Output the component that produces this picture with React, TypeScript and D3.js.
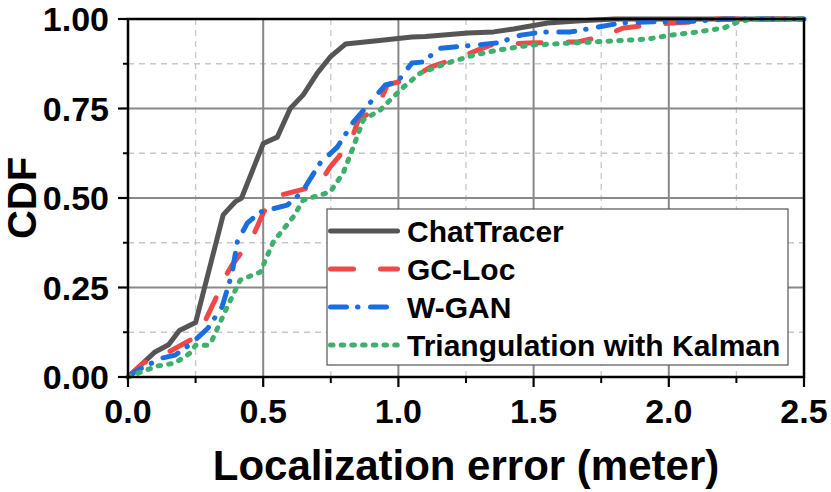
import React from "react";
import * as d3 from "d3";

type Pt = [number, number];

const chatTracer: Pt[] = [
  [0, 0], [0.1, 0.07], [0.15, 0.09], [0.19, 0.13], [0.25, 0.152], [0.352, 0.453],
  [0.396, 0.489], [0.42, 0.5], [0.5, 0.652], [0.552, 0.67], [0.6, 0.75], [0.648, 0.788],
  [0.7, 0.849], [0.748, 0.894], [0.804, 0.93], [0.93, 0.94], [1.05, 0.95], [1.1, 0.951],
  [1.256, 0.961], [1.352, 0.964], [1.426, 0.972], [1.552, 0.989], [1.674, 0.995], [1.8, 1.0], [2.5, 1.0],
];

const gcLoc: Pt[] = [
  [0, 0], [0.056, 0.039], [0.144, 0.067], [0.23, 0.103], [0.278, 0.145], [0.322, 0.215],
  [0.359, 0.279], [0.385, 0.313], [0.459, 0.388], [0.5, 0.458], [0.537, 0.503], [0.611, 0.517],
  [0.704, 0.536], [0.748, 0.587], [0.822, 0.654], [0.852, 0.718], [0.922, 0.751], [0.959, 0.816],
  [1.052, 0.835], [1.12, 0.866], [1.219, 0.891], [1.293, 0.913], [1.341, 0.927], [1.478, 0.933],
  [1.663, 0.936], [1.748, 0.95], [1.833, 0.975], [1.933, 0.983], [2.007, 0.989], [2.12, 0.992],
  [2.17, 1.0], [2.5, 1.0],
];

const wGan: Pt[] = [
  [0, 0], [0.037, 0.02], [0.126, 0.053], [0.174, 0.061], [0.237, 0.095], [0.296, 0.137],
  [0.348, 0.196], [0.385, 0.29], [0.404, 0.377], [0.441, 0.43], [0.489, 0.461], [0.589, 0.48],
  [0.644, 0.517], [0.711, 0.598], [0.774, 0.642], [0.833, 0.712], [0.878, 0.751], [0.952, 0.816],
  [0.996, 0.824], [1.05, 0.877], [1.093, 0.88], [1.15, 0.918], [1.256, 0.925], [1.367, 0.933],
  [1.452, 0.955], [1.537, 0.964], [1.637, 0.964], [1.722, 0.975], [1.822, 0.989], [1.944, 0.992],
  [2.04, 0.992], [2.17, 0.997], [2.2, 1.0], [2.5, 1.0],
];

const triKalman: Pt[] = [
  [0, 0], [0.037, 0.011], [0.111, 0.031], [0.174, 0.039], [0.23, 0.067], [0.25, 0.089],
  [0.296, 0.089], [0.311, 0.103], [0.367, 0.196], [0.415, 0.271], [0.489, 0.293], [0.537, 0.377],
  [0.611, 0.447], [0.648, 0.494], [0.748, 0.517], [0.796, 0.57], [0.833, 0.642], [0.87, 0.718],
  [0.933, 0.746], [0.97, 0.774], [1.019, 0.81], [1.081, 0.849], [1.181, 0.877], [1.278, 0.899],
  [1.367, 0.913], [1.489, 0.927], [1.722, 0.936], [1.922, 0.944], [2.007, 0.955], [2.107, 0.964],
  [2.204, 0.975], [2.256, 0.992], [2.31, 1.0], [2.5, 1.0],
];

const seriesNames = ["ChatTracer", "GC-Loc", "W-GAN", "Triangulation with Kalman"];
const xTickLabels = ["0.0", "0.5", "1.0", "1.5", "2.0", "2.5"];
const yTickLabels = ["0.00", "0.25", "0.50", "0.75", "1.00"];
const xTitle = "Localization error (meter)";
const yTitle = "CDF";

const W = 831;
const H = 492;
const M = { left: 128, top: 19, right: 27, bottom: 115 };
const FONT = "'Liberation Sans', Arial, Helvetica, sans-serif";

const styles = [
  { color: "#555555", dash: "" },
  { color: "#F04848", dash: "23,27" },
  { color: "#1A6FE0", dash: "16,11,0.5,12.5" },
  { color: "#3CB06C", dash: "2.5,8.2" },
];

export default function App() {
  const x = d3.scaleLinear().domain([0, 2.5]).range([M.left, W - M.right]);
  const y = d3.scaleLinear().domain([0, 1]).range([H - M.bottom, M.top]);
  const line = d3
    .line<Pt>()
    .x((d) => x(d[0]))
    .y((d) => y(d[1]));
  const data = [chatTracer, gcLoc, wGan, triKalman];

  const xMajor = xTickLabels.map((t) => +t);
  const yMajor = yTickLabels.map((t) => +t);
  const xMinor = d3.range(0.25, 2.5, 0.5);
  const yMinor = d3.range(0.125, 1, 0.25);

  const x0 = M.left, x1 = W - M.right, y0 = H - M.bottom, y1 = M.top;

  const lg = { x: 327, y: 209, w: 461, h: 156 };
  const rowY = [231, 269, 307, 345];

  return (
    <svg width={W} height={H} style={{ position: "absolute", left: 0, top: 0, background: "#fff" }}>
      <rect x={0} y={0} width={W} height={H} fill="#fff" />
      {/* minor grid */}
      {xMinor.map((v) => (
        <line key={"xm" + v} x1={x(v)} x2={x(v)} y1={y0} y2={y1} stroke="#c8c8c8" strokeWidth={1.3} strokeDasharray="6,5" />
      ))}
      {yMinor.map((v) => (
        <line key={"ym" + v} x1={x0} x2={x1} y1={y(v)} y2={y(v)} stroke="#c8c8c8" strokeWidth={1.3} strokeDasharray="6,5" />
      ))}
      {/* major grid */}
      {xMajor.slice(1, -1).map((v) => (
        <line key={"xg" + v} x1={x(v)} x2={x(v)} y1={y0} y2={y1} stroke="#888" strokeWidth={2} />
      ))}
      {yMajor.slice(1, -1).map((v) => (
        <line key={"yg" + v} x1={x0} x2={x1} y1={y(v)} y2={y(v)} stroke="#888" strokeWidth={2} />
      ))}
      {/* series */}
      {data.map((d, i) => (
        <path
          key={seriesNames[i]}
          d={line(d) || ""}
          fill="none"
          stroke={styles[i].color}
          strokeWidth={5}
          strokeDasharray={styles[i].dash || undefined}
          strokeLinecap={i === 0 ? "butt" : "round"}
          strokeLinejoin="round"
        />
      ))}
      {/* frame */}
      <rect x={x0} y={y1} width={x1 - x0} height={y0 - y1} fill="none" stroke="#000" strokeWidth={2.5} />
      {/* ticks */}
      {xMajor.map((v) => (
        <line key={"xt" + v} x1={x(v)} x2={x(v)} y1={y0} y2={y0 + 10} stroke="#000" strokeWidth={2.2} />
      ))}
      {xMinor.map((v) => (
        <line key={"xmt" + v} x1={x(v)} x2={x(v)} y1={y0} y2={y0 + 6} stroke="#000" strokeWidth={2} />
      ))}
      {yMajor.map((v) => (
        <line key={"yt" + v} x1={x0 - 10} x2={x0} y1={y(v)} y2={y(v)} stroke="#000" strokeWidth={2.2} />
      ))}
      {yMinor.map((v) => (
        <line key={"ymt" + v} x1={x0 - 5} x2={x0} y1={y(v)} y2={y(v)} stroke="#000" strokeWidth={2} />
      ))}
      {/* tick labels */}
      {xTickLabels.map((t) => (
        <text key={"xl" + t} x={x(+t)} y={423} textAnchor="middle" fontFamily={FONT} fontWeight="bold" fontSize={34} fill="#000">
          {t}
        </text>
      ))}
      {yTickLabels.map((t) => (
        <text key={"yl" + t} x={109} y={y(+t) + 12} textAnchor="end" fontFamily={FONT} fontWeight="bold" fontSize={34} fill="#000">
          {t}
        </text>
      ))}
      {/* axis titles */}
      <text x={(x0 + x1) / 2} y={480} textAnchor="middle" fontFamily={FONT} fontWeight="bold" fontSize={42} fill="#000">
        {xTitle}
      </text>
      <text
        transform={`translate(36,${(y0 + y1) / 2}) rotate(-90)`}
        textAnchor="middle"
        fontFamily={FONT}
        fontWeight="bold"
        fontSize={40}
        fill="#000"
      >
        {yTitle}
      </text>
      {/* legend */}
      <rect x={lg.x} y={lg.y} width={lg.w} height={lg.h} fill="#fff" stroke="#555" strokeWidth={1.2} />
      {seriesNames.map((n, i) => (
        <g key={"lg" + n}>
          <line
            x1={330.5}
            x2={397.5}
            y1={rowY[i]}
            y2={rowY[i]}
            stroke={styles[i].color}
            strokeWidth={5}
            strokeDasharray={styles[i].dash || undefined}
            strokeLinecap="round"
          />
          <text x={407} y={rowY[i] + 10.5} fontFamily={FONT} fontWeight="bold" fontSize={30} fill="#000">
            {n}
          </text>
        </g>
      ))}
    </svg>
  );
}
